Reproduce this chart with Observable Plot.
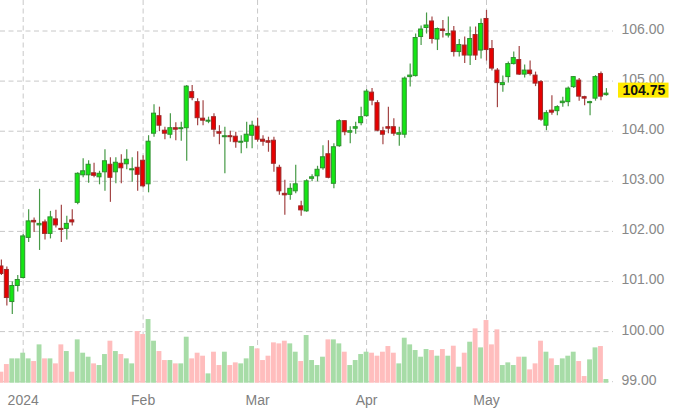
<!DOCTYPE html>
<html><head><meta charset="utf-8">
<script src="https://cdn.jsdelivr.net/npm/d3@7"></script>
<script src="https://cdn.jsdelivr.net/npm/@observablehq/plot@0.6"></script>
<style>
html,body{margin:0;padding:0;background:#fff;}
#chart svg{display:block;}
</style></head><body><div id="chart"></div>
<script>
// Daily candles, 26 Dec 2023 .. 31 May 2024 (trading-day index)
const opens = [
101.30,101.23,100.59,100.91,101.07,101.87,102.21,102.12,102.18,101.95,
102.24,102.05,102.05,102.22,102.57,103.12,103.12,103.16,103.08,103.18,
103.33,103.18,103.35,103.34,103.22,103.27,103.41,102.94,103.95,104.30,
104.01,103.93,104.06,104.04,104.06,104.78,104.58,104.25,104.19,104.28,
103.98,103.88,103.90,103.89,103.77,103.79,103.91,104.09,103.83,103.80,
103.81,103.27,102.75,102.73,102.80,102.50,102.40,103.05,103.10,103.26,
103.54,102.95,103.70,104.20,103.97,104.05,104.16,104.30,104.77,104.56,
104.00,104.08,104.08,103.93,103.93,105.08,105.10,105.88,106.06,106.19,
105.83,106.03,105.91,105.99,105.58,105.71,105.51,105.92,105.61,106.24,
105.64,105.21,104.92,105.08,105.34,105.42,105.13,105.21,105.11,104.98,
104.11,104.41,104.40,104.56,104.58,104.88,105.01,104.68,104.56,104.65,
105.14,104.72];
const highs = [
101.43,101.29,100.99,101.12,101.94,102.43,102.27,102.84,102.23,102.40,
102.42,102.52,102.30,102.43,103.17,103.45,103.41,103.36,103.20,103.63,
103.47,103.47,103.53,103.63,103.47,103.59,103.51,103.91,104.53,104.48,
104.08,104.35,104.17,104.18,104.91,104.91,104.65,104.61,104.28,104.35,
104.11,104.08,104.00,103.98,103.91,104.18,104.20,104.26,103.91,103.88,
103.88,103.32,103.02,102.95,103.32,102.60,103.03,103.13,103.30,103.71,
103.81,103.75,104.23,104.21,104.09,104.18,104.48,104.83,104.85,104.61,
104.08,104.48,104.25,104.08,105.08,105.34,105.94,106.10,106.36,106.28,
106.06,106.21,106.28,106.09,105.83,105.88,106.08,106.08,106.24,106.41,
105.81,105.25,105.10,105.38,105.58,105.69,105.32,105.40,105.18,105.01,
104.41,104.71,104.51,104.68,104.88,105.09,105.05,104.70,104.60,105.11,
105.18,104.85];
const lows = [
101.12,100.51,100.34,100.79,101.05,101.78,101.98,101.62,101.83,101.85,
102.07,101.78,101.83,102.11,102.53,103.07,102.96,103.07,102.93,102.80,
102.58,102.95,102.95,103.23,102.98,102.80,102.87,102.77,103.88,103.99,
103.83,103.85,103.81,103.80,103.40,104.61,104.11,104.11,104.15,103.88,
103.73,103.15,103.78,103.66,103.55,103.65,103.65,103.78,103.70,103.58,
103.18,102.72,102.32,102.62,102.75,102.30,102.38,102.99,102.99,103.22,
103.05,102.85,103.68,103.91,103.75,103.94,104.11,104.28,104.51,103.99,
103.73,103.95,103.90,103.70,103.86,104.88,105.08,105.71,105.94,105.74,
105.61,105.86,105.86,105.48,105.48,105.35,105.31,105.41,105.44,105.40,
105.20,104.47,104.78,104.96,105.32,105.11,105.06,105.10,104.89,104.20,
104.01,104.32,104.31,104.48,104.49,104.85,104.60,104.51,104.31,104.60,
104.61,104.70];
const closes = [
101.15,100.67,100.91,101.03,101.90,102.20,102.18,102.15,101.95,102.28,
102.12,102.03,102.15,102.18,103.15,103.20,103.33,103.11,103.15,103.40,
103.07,103.37,103.26,103.43,103.24,103.13,102.90,103.79,104.35,104.11,
103.95,104.06,104.03,104.06,104.89,104.66,104.26,104.21,104.21,104.03,
103.95,103.90,103.88,103.78,103.79,103.93,104.11,103.83,103.79,103.77,
103.35,102.80,102.72,102.85,102.94,102.42,103.00,103.08,103.23,103.48,
103.07,103.68,104.20,103.98,104.00,104.08,104.28,104.79,104.61,104.01,
103.93,104.05,103.95,103.96,105.05,105.11,105.86,106.03,106.11,105.84,
106.04,106.00,105.94,105.58,105.72,105.51,105.84,105.51,106.14,105.62,
105.25,104.96,104.96,105.34,105.46,105.13,105.21,105.14,104.95,104.23,
104.36,104.37,104.48,104.59,104.85,105.08,104.69,104.65,104.58,105.08,
104.69,104.75];
// relative volume
const volumes = [
33,56,73,73,90,73,65,115,73,73,
58,115,95,33,130,90,78,58,53,86,
126,95,86,73,58,155,146,191,126,95,
68,68,58,58,138,73,90,81,28,93,
53,93,53,61,58,73,110,103,68,81,
121,118,126,118,93,65,143,68,53,78,
130,130,118,93,53,68,86,93,90,81,
93,110,90,58,135,115,98,78,101,98,
81,101,81,111,48,90,123,163,106,188,
115,160,53,61,53,78,78,40,58,126,
93,73,53,73,81,93,65,20,70,106,
110,11];
const monthTickIndex = [4, 26, 47, 67, 89];
const monthTickLabels = ["2024", "Feb", "Mar", "Apr", "May"];
const priceTicks = [99, 100, 101, 102, 103, 104, 105, 106];

const data = opens.map((o, i) => ({
  i, open: o, high: highs[i], low: lows[i], close: closes[i],
  volume: volumes[i], up: closes[i] >= o
}));
const last = data[data.length - 1];
const lastText = last.close.toFixed(2);

const yMin = 98.97, yMax = 106.609;
const volUnit = 1 / 150.3;
const labelOf = new Map(monthTickIndex.map((d, k) => [d, monthTickLabels[k]]));

const GREEN = "#14e614", GREEN_EDGE = "#2e8e2e", GREEN_WICK = "#479a47";
const RED = "#e60000", RED_EDGE = "#9b2a2a", RED_WICK = "#a34545";
const grid = {stroke: "#c8c8c8", strokeDasharray: "5,3.5", strokeWidth: 1};

const svg = Plot.plot({
  width: 673, height: 413,
  marginLeft: 0, marginRight: 60, marginTop: 0, marginBottom: 30.3,
  x: {domain: [-0.165, 112.3], label: null},
  y: {domain: [yMin, yMax], label: null},
  style: {fontFamily: "'Liberation Sans', Arial, sans-serif", fontSize: "14px", color: "#888", background: "#fff"},
  marks: [
    Plot.ruleY(priceTicks, {y: d => d, ...grid}),
    Plot.ruleX(monthTickIndex, {x: d => d, ...grid}),
    Plot.rect(data, {filter: d => d.up, x1: d => d.i - 0.5, x2: d => d.i + 0.5, y1: yMin, y2: d => yMin + d.volume * volUnit, fill: "#a7dca7", insetLeft: 0.3, insetRight: 0.3}),
    Plot.rect(data, {filter: d => !d.up, x1: d => d.i - 0.5, x2: d => d.i + 0.5, y1: yMin, y2: d => yMin + d.volume * volUnit, fill: "#ffbdbd", insetLeft: 0.3, insetRight: 0.3}),
    Plot.ruleX(data, {filter: d => d.up, x: "i", y1: "low", y2: "high", stroke: GREEN_WICK, strokeWidth: 1.2}),
    Plot.ruleX(data, {filter: d => !d.up, x: "i", y1: "low", y2: "high", stroke: RED_WICK, strokeWidth: 1.2}),
    Plot.rect(data, {filter: d => d.up, x1: d => d.i - 0.37, x2: d => d.i + 0.37, y1: "open", y2: "close", fill: GREEN, stroke: GREEN_EDGE, strokeWidth: 1}),
    Plot.rect(data, {filter: d => !d.up, x1: d => d.i - 0.37, x2: d => d.i + 0.37, y1: "open", y2: "close", fill: RED, stroke: RED_EDGE, strokeWidth: 1}),
    Plot.axisY(priceTicks, {anchor: "right", label: null, tickSize: 0, tickPadding: 8, dy: -1.5, tickFormat: d => d.toFixed(2), fill: "#888", fontSize: 14}),
    Plot.axisX(monthTickIndex, {anchor: "bottom", label: null, tickSize: 0, tickPadding: 12, tickFormat: d => labelOf.get(d), fill: "#808080", fontSize: 14}),
    Plot.text([last], {y: "close", frameAnchor: "right", textAnchor: "start", dx: 9, dy: -3, text: d => d.close.toFixed(2), fill: "#111", fontWeight: "bold", fontSize: 14})
  ]
});
document.getElementById("chart").appendChild(svg);

// yellow highlight behind last-price label
d3.select(svg).selectAll("text")
  .filter(function() { return this.textContent === lastText && this.getAttribute("fill") !== "#888"; })
  .each(function() {
    const b = this.getBBox();
    const r = d3.select(this.parentNode).insert("rect", () => this)
      .attr("x", b.x - 4.5).attr("y", b.y + 0.5)
      .attr("width", b.width + 7.5).attr("height", b.height - 1)
      .attr("fill", "#ffea00");
    const t = this.getAttribute("transform");
    if (t) r.attr("transform", t);
  });
</script></body></html>
